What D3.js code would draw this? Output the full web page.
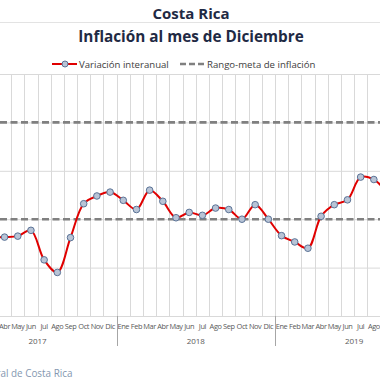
<!DOCTYPE html>
<html>
<head>
<meta charset="utf-8">
<script src="https://cdn.jsdelivr.net/npm/d3@7"></script>
<style>
  html, body { margin: 0; padding: 0; background: #ffffff; }
  svg { display: block; }
</style>
</head>
<body>
<svg id="chart" width="380" height="380"></svg>
<script>
// ---- Data ----
const years = ["2017", "2018", "2019"];
const months = ["Ene","Feb","Mar","Abr","May","Jun","Jul","Ago","Sep","Oct","Nov","Dic"];
// Interannual inflation (%), from Mar 2017 to Sep 2019
const inflation2017 = [null, null, 1.62, 1.63, 1.65, 1.77, 1.16, 0.90, 1.62, 2.32, 2.48, 2.56];
const inflation2018 = [2.39, 2.20, 2.60, 2.37, 2.03, 2.14, 2.08, 2.23, 2.20, 2.00, 2.30, 2.00];
const inflation2019 = [1.66, 1.53, 1.40, 2.06, 2.30, 2.40, 2.87, 2.82, 2.55, null, null, null];
const targetLow = 2;
const targetHigh = 4;
const yTicks = [0, 1, 2, 3, 4, 5];

const title1 = "Costa Rica";
const title2 = "Inflación al mes de Diciembre";
const legendLine = "Variación interanual";
const legendRange = "Rango-meta de inflación";
const source = "Fuente: Banco Central de Costa Rica";

// ---- Build records ----
const seriesByYear = [inflation2017, inflation2018, inflation2019];
const records = [];
years.forEach((y, yi) => months.forEach((m, mi) => {
  records.push({ key: y + "-" + m, year: y, month: m, value: seriesByYear[yi][mi] });
}));

const svg = d3.select("#chart");
const font = "'Open Sans', 'DejaVu Sans', sans-serif";
const W = 380;

// ---- Scales (plot area extends beyond the visible frame, as in the cropped reference) ----
const x = d3.scaleBand().domain(records.map(d => d.key)).range([-41.6, 433.2]).padding(0);
const y = d3.scaleLinear().domain([0, 5]).range([316, 74]);
const bw = x.bandwidth();
const cx = d => x(d.key) + bw / 2;

// ---- Titles ----
svg.append("line").attr("x1", 0).attr("x2", W).attr("y1", 22.5).attr("y2", 22.5)
  .attr("stroke", "#e3e3e3").attr("stroke-width", 1);
svg.append("text").attr("x", 191).attr("y", 19).attr("text-anchor", "middle")
  .attr("font-family", font).attr("font-weight", "bold").attr("font-size", 15)
  .attr("fill", "#1f2a44").text(title1);
svg.append("text").attr("x", 191).attr("y", 42).attr("text-anchor", "middle")
  .attr("font-family", font).attr("font-weight", "bold").attr("font-size", 15.3)
  .attr("fill", "#1f2a44").text(title2);

// ---- Gridlines ----
const grid = svg.append("g");
grid.selectAll("line.h").data(yTicks).join("line")
  .attr("x1", 0).attr("x2", W)
  .attr("y1", d => y(d) + 0.5).attr("y2", d => y(d) + 0.5)
  .attr("stroke", "#d9d9d9").attr("stroke-width", 1);
grid.selectAll("line.v").data(records.slice(1)).join("line")
  .attr("x1", d => Math.round(x(d.key)) + 0.5).attr("x2", d => Math.round(x(d.key)) + 0.5)
  .attr("y1", y(5)).attr("y2", y(0))
  .attr("stroke", "#d9d9d9").attr("stroke-width", 1);

// ---- Target range (dashed) ----
svg.selectAll("line.target").data([targetLow, targetHigh]).join("line")
  .attr("x1", 0).attr("x2", W)
  .attr("y1", d => y(d)).attr("y2", d => y(d))
  .attr("stroke", "#808080").attr("stroke-width", 2.6)
  .attr("stroke-dasharray", "7,3.5");

// ---- X axis (only labels inside the visible frame are drawn) ----
const visibleKeys = records.map(d => d.key).filter(k => {
  const c = x(k) + bw / 2;
  return c > 0 && c < W;
});
const xAxis = d3.axisBottom(x).tickSize(0).tickValues(visibleKeys).tickFormat(k => k.split("-")[1]);
const gx = svg.append("g").attr("transform", `translate(0,${y(0)})`).call(xAxis);
gx.select(".domain").attr("stroke", "#d9d9d9").attr("d", `M0,0.5H${W}`);
gx.selectAll(".tick text").attr("font-family", font).attr("font-size", 7.4)
  .attr("letter-spacing", -0.4).attr("fill", "#595959").attr("dy", "1.4em");

// Year separators and labels
const yearStarts = years.slice(1).map(yr => x(yr + "-Ene"));
svg.selectAll("line.sep").data(yearStarts).join("line")
  .attr("x1", d => Math.round(d) + 0.5).attr("x2", d => Math.round(d) + 0.5)
  .attr("y1", y(0)).attr("y2", y(0) + 30)
  .attr("stroke", "#a6a6a6").attr("stroke-width", 1);
svg.selectAll("text.year").data(years).join("text")
  .attr("x", yr => (x(yr + "-Ene") + x(yr + "-Dic") + bw) / 2)
  .attr("y", y(0) + 27.5)
  .attr("text-anchor", "middle").attr("font-family", font).attr("font-size", 8)
  .attr("fill", "#595959").text(d => d);

// ---- Line series ----
const line = d3.line().defined(d => d.value != null)
  .x(cx).y(d => y(d.value)).curve(d3.curveCatmullRom.alpha(0.5));
svg.append("path").datum(records).attr("d", line)
  .attr("fill", "none").attr("stroke", "#e00000").attr("stroke-width", 2);
svg.selectAll("circle.pt").data(records.filter(d => d.value != null)).join("circle")
  .attr("cx", cx).attr("cy", d => y(d.value)).attr("r", 3.3)
  .attr("fill", "#b8c4d6").attr("stroke", "#5b7396").attr("stroke-width", 1);

// ---- Legend ----
const lg = svg.append("g").attr("transform", "translate(0,64)");
lg.append("line").attr("x1", 52).attr("x2", 77).attr("y1", 0).attr("y2", 0)
  .attr("stroke", "#e00000").attr("stroke-width", 2);
lg.append("circle").attr("cx", 65).attr("cy", 0).attr("r", 3)
  .attr("fill", "#b8c4d6").attr("stroke", "#5b7396").attr("stroke-width", 1);
lg.append("text").attr("x", 79).attr("y", 3.5).attr("font-family", font).attr("font-size", 9.6)
  .attr("fill", "#404040").text(legendLine);
lg.append("line").attr("x1", 180).attr("x2", 206).attr("y1", 0).attr("y2", 0)
  .attr("stroke", "#808080").attr("stroke-width", 2.4).attr("stroke-dasharray", "6,3");
lg.append("text").attr("x", 207).attr("y", 3.5).attr("font-family", font).attr("font-size", 9.6)
  .attr("fill", "#404040").text(legendRange);

// ---- Source (cropped at left edge like the reference: "...al de Costa Rica" visible) ----
const src = svg.append("text").attr("x", 0).attr("y", 377)
  .attr("font-family", font).attr("font-size", 12).attr("fill", "#8497b0").text(source);
const node = src.node();
const cut = source.indexOf("al de");
const visW = node.getSubStringLength(cut, source.length - cut);
const fs = 12 * 72 / visW;
src.attr("font-size", fs);
const startX = node.getStartPositionOfChar(cut).x;
src.attr("x", 0.5 - startX);
</script>
</body>
</html>
